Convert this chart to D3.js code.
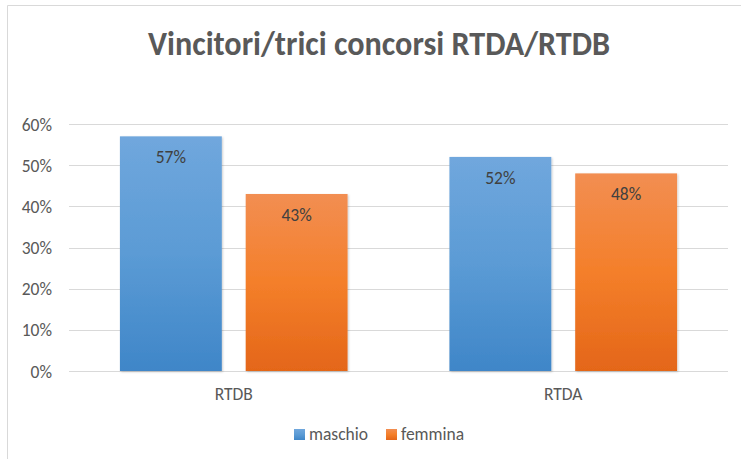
<!DOCTYPE html>
<html>
<head>
<meta charset="utf-8">
<script src="https://cdn.jsdelivr.net/npm/d3@7"></script>
<style>
  body { margin: 0; background: #fff; }
  text { font-family: Calibri, Carlito, "Open Sans", sans-serif; fill: #595959; }
</style>
</head>
<body>
<div id="chart"></div>
<script>
const categories = ["RTDB", "RTDA"]
const series = ["maschio", "femmina"]
const maschio = [0.57, 0.52]
const femmina = [0.43, 0.48]
const yTicks = [0, 0.1, 0.2, 0.3, 0.4, 0.5, 0.6]

const W = 741, H = 459
const margin = { top: 124, right: 13, bottom: 88, left: 69 }
const fs = 17.5

const svg = d3.select("#chart").append("svg")
    .attr("width", W)
    .attr("height", H)

// chart frame (cropped on right / bottom)
svg.append("path")
    .attr("d", `M7.5,${H} L7.5,5.5 L${W},5.5`)
    .attr("fill", "none")
    .attr("stroke", "#d9d9d9")

const defs = svg.append("defs")
const grads = [
    { id: "g-maschio", stops: ["#70a7dd", "#5b9bd5", "#3f86c8"] },
    { id: "g-femmina", stops: ["#f28e52", "#f47f2a", "#e46619"] }
]
grads.forEach(g => {
    const lg = defs.append("linearGradient")
        .attr("id", g.id)
        .attr("x1", 0).attr("y1", 0).attr("x2", 0).attr("y2", 1)
    g.stops.forEach((c, i) => lg.append("stop")
        .attr("offset", i / (g.stops.length - 1))
        .attr("stop-color", c))
})
const shadow = defs.append("filter").attr("id", "shadow")
    .attr("x", -0.1).attr("y", -0.1).attr("width", 1.2).attr("height", 1.2)
shadow.append("feDropShadow")
    .attr("dx", 1).attr("dy", 1).attr("stdDeviation", 1)
    .attr("flood-color", "#000").attr("flood-opacity", 0.2)

const x0 = d3.scaleBand()
    .domain(categories)
    .range([margin.left, W - margin.right])

const x1 = d3.scaleBand()
    .domain(series)
    .range([0, x0.bandwidth()])
    .paddingInner(0.19)
    .paddingOuter(0.405)

const y = d3.scaleLinear()
    .domain([0, 0.6])
    .range([H - margin.bottom, margin.top])

// gridlines
svg.append("g")
    .selectAll("line")
    .data(yTicks)
    .join("line")
    .attr("x1", margin.left)
    .attr("x2", W - margin.right)
    .attr("y1", d => Math.round(y(d)) + 0.5)
    .attr("y2", d => Math.round(y(d)) + 0.5)
    .attr("stroke", "#d9d9d9")
    .attr("stroke-width", 1)

// y tick labels
svg.append("g")
    .selectAll("text")
    .data(yTicks)
    .join("text")
    .attr("x", 52)
    .attr("y", d => y(d) + 6.5)
    .attr("text-anchor", "end")
    .attr("font-size", fs)
    .text(d => d3.format(".0%")(d))

const rows = categories.map((c, i) => ({
    cat: c,
    values: [
        { key: "maschio", value: maschio[i] },
        { key: "femmina", value: femmina[i] }
    ]
}))

const groups = svg.append("g")
    .selectAll("g")
    .data(rows)
    .join("g")
    .attr("transform", d => `translate(${x0(d.cat)},0)`)

groups.selectAll("rect")
    .data(d => d.values)
    .join("rect")
    .attr("x", d => x1(d.key))
    .attr("y", d => y(d.value))
    .attr("width", x1.bandwidth())
    .attr("height", d => y(0) - y(d.value))
    .attr("fill", d => `url(#g-${d.key})`)
    .attr("filter", "url(#shadow)")

groups.selectAll("text.val")
    .data(d => d.values)
    .join("text")
    .attr("class", "val")
    .attr("x", d => x1(d.key) + x1.bandwidth() / 2)
    .attr("y", d => y(d.value) + 27)
    .attr("text-anchor", "middle")
    .attr("font-size", fs)
    .style("fill", "#404040")
    .text(d => d3.format(".0%")(d.value))

// category labels
svg.append("g")
    .selectAll("text")
    .data(categories)
    .join("text")
    .attr("x", d => x0(d) + x0.bandwidth() / 2)
    .attr("y", 400)
    .attr("text-anchor", "middle")
    .attr("font-size", fs)
    .text(d => d)

// title
svg.append("text")
    .attr("x", 379)
    .attr("y", 55)
    .attr("text-anchor", "middle")
    .attr("font-size", 34)
    .attr("font-weight", "bold")
    .attr("textLength", 462)
    .attr("lengthAdjust", "spacingAndGlyphs")
    .text("Vincitori/trici concorsi RTDA/RTDB")

// legend
const legend = svg.append("g")
const legendX = [294, 386]
series.forEach((s, i) => {
    legend.append("rect")
        .attr("x", legendX[i])
        .attr("y", 429)
        .attr("width", 11)
        .attr("height", 11)
        .attr("fill", `url(#g-${s})`)
    legend.append("text")
        .attr("x", legendX[i] + 15)
        .attr("y", 440)
        .attr("font-size", fs)
        .text(s)
})
</script>
</body>
</html>
